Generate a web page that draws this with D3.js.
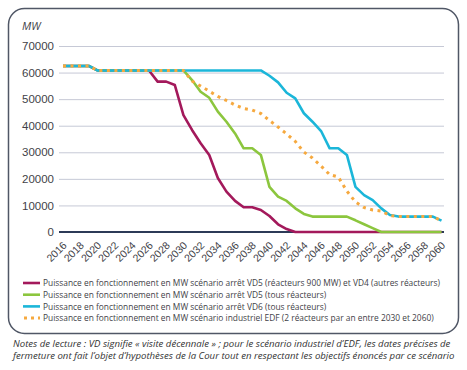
<!DOCTYPE html>
<html>
<head>
<meta charset="utf-8">
<script src="https://cdn.jsdelivr.net/npm/d3@7"></script>
<style>
  body { margin: 0; background: #fff; }
  svg { font-family: "Open Sans", sans-serif; }
  .grid line { stroke: #c6c9d6; stroke-width: 1; }
  .line { fill: none; stroke-linejoin: round; }
</style>
</head>
<body>
<svg id="view" width="467" height="370"></svg>
<script>
// années (une valeur par an)
const years = d3.range(2016, 2061);

// puissance en fonctionnement, MW
const vd5vd4 = [62500, 62500, 62500, 62500, 60800, 60800, 60800, 60800, 60800, 60800,
  60800, 56600, 56600, 55300, 44000, 38400, 33400, 29000, 20300, 15200,
  11700, 9300, 9300, 8300, 6000, 2900, 1100, 0, 0, 0,
  0, 0, 0, 0, 0, 0, 0, 0, 0, 0,
  0, 0, 0, 0, 0];
const vd5 = [62500, 62500, 62500, 62500, 60800, 60800, 60800, 60800, 60800, 60800,
  60800, 60800, 60800, 60800, 60800, 57200, 52800, 50500, 45300, 41500,
  37100, 31500, 31500, 29000, 17000, 13300, 11700, 8900, 6800, 5800,
  5800, 5800, 5800, 5800, 4400, 2900, 1450, 0, 0, 0,
  0, 0, 0, 0, 0];
const vd6 = [62500, 62500, 62500, 62500, 60800, 60800, 60800, 60800, 60800, 60800,
  60800, 60800, 60800, 60800, 60800, 60800, 60800, 60800, 60800, 60800,
  60800, 60800, 60800, 60800, 58800, 56300, 52400, 50300, 44700, 41500,
  38000, 31500, 31500, 29000, 17000, 13900, 12000, 8900, 6400, 5800,
  5800, 5800, 5800, 5800, 4300];
const edf = [62500, 62500, 62500, 62500, 60800, 60800, 60800, 60800, 60800, 60800,
  60800, 60800, 60800, 60800, 60800, 56800, 54900, 53000, 51000, 49500,
  47800, 46500, 45900, 44600, 42000, 39500, 36900, 34100, 30100, 27850,
  24800, 21600, 20700, 15400, 11300, 9200, 8300, 7900, 6200, 5800,
  5800, 5800, 5800, 5800, 4300];

const yTicks = [0, 10000, 20000, 30000, 40000, 50000, 60000, 70000];
const xTicks = d3.range(2016, 2061, 2);

const series = [
  {name: 'Puissance en fonctionnement en MW scénario arrêt VD5 (réacteurs 900 MW) et VD4 (autres réacteurs)', values: vd5vd4, color: '#a3195b'},
  {name: 'Puissance en fonctionnement en MW scénario arrêt VD5 (tous réacteurs)', values: vd5, color: '#8cc63e'},
  {name: 'Puissance en fonctionnement en MW scénario arrêt VD6 (tous réacteurs)', values: vd6, color: '#1bb6d9'},
  {name: 'Puissance en fonctionnement en MW scénario industriel EDF (2 réacteurs par an entre 2030 et 2060)', values: edf, color: '#f6a93f', dotted: true}
];

const svg = d3.select('#view');

// cadre arrondi
svg.append('rect')
  .attr('x', 8.5).attr('y', 8.5)
  .attr('width', 450).attr('height', 325)
  .attr('rx', 16)
  .attr('fill', 'none')
  .attr('stroke', '#505766')
  .attr('stroke-width', 1.5);

const x = d3.scaleLinear().domain([2016, 2060]).range([63, 441.5]);
const y = d3.scaleLinear().domain([0, 70000]).range([232, 46]);

// grille horizontale
svg.append('g')
  .attr('class', 'grid')
  .attr('transform', 'translate(59,0)')
  .call(d3.axisLeft(y).tickValues(yTicks).tickSize(-385).tickFormat(d3.format('d')))
  .call(g => g.select('.domain').remove())
  .call(g => g.selectAll('text').attr('x', -5).attr('fill', '#3f3f48').style('font-size', '11.5px'))
  .call(g => g.selectAll('.tick').filter(d => d === 0).select('line').remove());

svg.append('text')
  .attr('x', 22).attr('y', 30)
  .attr('font-style', 'italic')
  .attr('fill', '#3f3f48')
  .style('font-size', '11px')
  .text('MW');

// axe des x
svg.append('line')
  .attr('x1', 59).attr('x2', 444)
  .attr('y1', y(0)).attr('y2', y(0))
  .attr('stroke', '#2c3a57').attr('stroke-width', 2);

const xAxis = svg.append('g')
  .attr('transform', `translate(0,${y(0)})`)
  .call(d3.axisBottom(x).tickValues(xTicks).tickSize(0).tickFormat(d3.format('d')))
  .call(g => g.select('.domain').remove());
xAxis.selectAll('text')
  .attr('fill', '#3f3f48')
  .style('font-size', '10.5px')
  .attr('text-anchor', 'end')
  .attr('dy', null).attr('y', 0)
  .attr('transform', 'translate(4,14) rotate(-45)');

// courbes
const line = d3.line()
  .x((d, i) => x(years[i]))
  .y(d => y(d));

series.forEach(s => {
  const p = svg.append('path')
    .datum(s.values)
    .attr('class', 'line')
    .attr('stroke', s.color)
    .attr('d', line);
  if (s.dotted) {
    p.attr('stroke-width', 3).attr('stroke-dasharray', '3 4.5');
  } else {
    p.attr('stroke-width', 2.6);
  }
});

// légende
const legend = svg.append('g').attr('transform', 'translate(23,283)');
series.forEach((s, i) => {
  const g = legend.append('g').attr('transform', `translate(0,${i * 11.7})`);
  const sw = g.append('line')
    .attr('x1', 0).attr('x2', 17)
    .attr('y1', 0).attr('y2', 0)
    .attr('stroke', s.color);
  if (s.dotted) sw.attr('stroke-width', 3).attr('stroke-dasharray', '3 4').attr('x1', 1);
  else sw.attr('stroke-width', 2.6);
  g.append('text')
    .attr('x', 20).attr('y', 3.2)
    .attr('fill', '#3f3f48')
    .style('font-size', '8.4px')
    .text(s.name);
});

// notes
const notes = [
  'Notes de lecture : VD signifie « visite décennale » ; pour le scénario industriel d\u2019EDF, les dates précises de',
  'fermeture ont fait l\u2019objet d\u2019hypothèses de la Cour tout en respectant les objectifs énoncés par ce scénario'
];
svg.append('g').selectAll('text')
  .data(notes)
  .join('text')
  .attr('x', 13)
  .attr('y', (d, i) => 347 + i * 11.5)
  .attr('font-style', 'italic')
  .attr('fill', '#333')
  .style('font-size', '9.6px')
  .text(d => d);
</script>
</body>
</html>
